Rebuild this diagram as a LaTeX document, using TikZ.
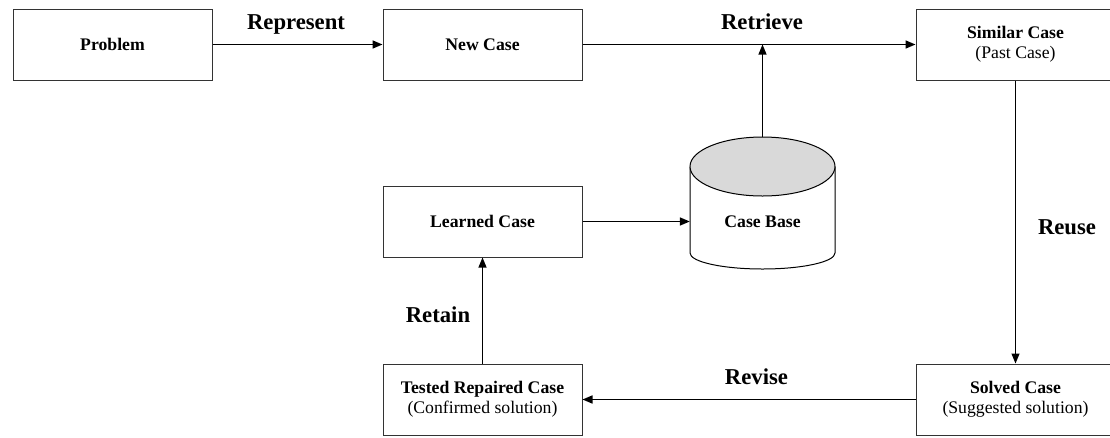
\documentclass[tikz,border=0pt]{standalone}
\usepackage{fontspec}
\setmainfont{Liberation Serif}
\usetikzlibrary{arrows.meta}

\tikzset{
  box/.style={draw=black!80, line width=1pt, rectangle, minimum width=199pt,
    minimum height=71pt, align=center, inner sep=0pt,
    font=\fontsize{17.7}{20.3}\selectfont},
  steplabel/.style={font=\fontsize{22.7}{26}\selectfont\bfseries, anchor=base, inner sep=0pt},
  flow/.style={line width=1.6pt, -{Triangle[length=10pt,width=8pt]}},
  thinflow/.style={line width=1.1pt, -{Triangle[length=10pt,width=8pt]}},
}

\begin{document}
\begin{tikzpicture}[x=1pt,y=-1pt]
  \useasboundingbox (0,0) rectangle (1110,437);
  \clip (0,0) rectangle (1110,437);

  % process boxes
  \node[box] (problem) at (112.5,44.5) {\textbf{Problem}};
  \node[box] (new)     at (482.5,44.5) {\textbf{New Case}};
  \node[box] (similar) at (1015.5,44.5) {\textbf{Similar Case}\\(Past Case)};
  \node[box] (learned) at (482.5,221.5) {\textbf{Learned Case}};
  \node[box] (tested)  at (482.5,399.5) {\textbf{Tested Repaired Case}\\(Confirmed solution)};
  \node[box] (solved)  at (1015.5,399.5) {\textbf{Solved Case}\\(Suggested solution)};

  % case base cylinder
  \coordinate (cbtop) at (762.5,137);
  \draw[line width=1pt, fill=white]
    (690,166.5) -- (690,253) arc[start angle=180, end angle=0, x radius=72.5, y radius=16]
    -- (835,166.5);
  \draw[line width=1pt, fill=black!15] (762.5,166.5) ellipse[x radius=72.5, y radius=29.5];
  \node[rectangle, minimum width=145pt, minimum height=86pt, inner sep=0pt] (cbody) at (762.5,210) {};
  \node[font=\fontsize{17.7}{20.3}\selectfont\bfseries] (cb) at (762.5,222) {Case Base};

  % connectors
  \draw[flow] (problem.east) -- (new.west);
  \draw[flow] (new.east) -- (similar.west);
  \draw[thinflow] (cbtop) -- (cbtop |- new.east);
  \draw[thinflow] (similar.south) -- (solved.north);
  \draw[flow] (solved.west) -- (tested.east);
  \draw[thinflow] (tested.north) -- (learned.south);
  \draw[flow] (learned.east) -- (cbody.west |- learned.east);

  % step labels
  \node[steplabel] (represent) at (296,29.5) {Represent};
  \node[steplabel] (retrieve)  at (762,29.5) {Retrieve};
  \node[steplabel] (reuse)     at (1067,234) {Reuse};
  \node[steplabel] (revise)    at (756.5,384) {Revise};
  \node[steplabel] (retain)    at (438,322.5) {Retain};
\end{tikzpicture}
\end{document}
